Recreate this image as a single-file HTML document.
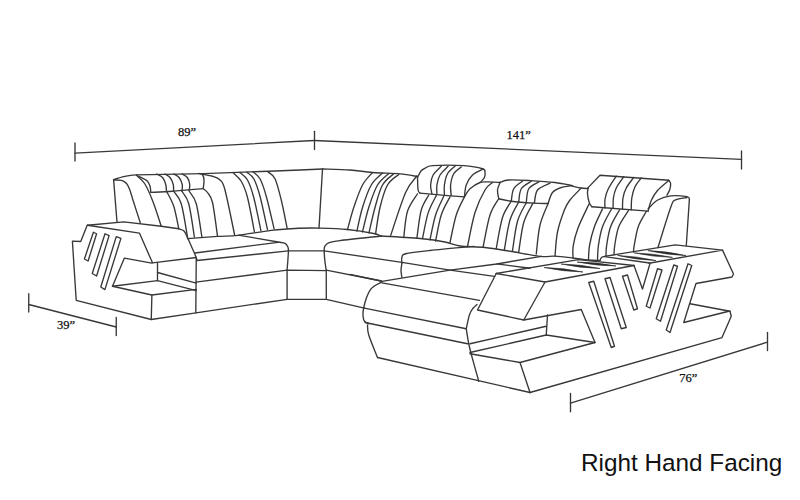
<!DOCTYPE html>
<html><head><meta charset="utf-8"><style>
html,body{margin:0;padding:0;background:#fff;width:800px;height:500px;overflow:hidden}
svg{position:absolute;left:0;top:0}
</style></head><body>
<svg width="800" height="500" viewBox="0 0 800 500">
<g fill="none" stroke="#383838" stroke-width="1.35" stroke-linejoin="round" stroke-linecap="round">
<path d="M75,143 L75,161"/>
<path d="M75,153.1 L314.25,140.5"/>
<path d="M314.5,131.3 L314.5,149.6"/>
<path d="M314.25,140.5 L741.5,159.4"/>
<path d="M741.5,151 L741.5,169"/>
<path d="M28.75,293.75 L28.75,312"/>
<path d="M28.75,304.5 L116.25,327"/>
<path d="M116.25,317.5 L116.25,335.5"/>
<path d="M570.5,393.4 L570.5,411.7"/>
<path d="M570.5,403.2 L767.5,342.1"/>
<path d="M767.5,332.5 L767.5,350.5"/>
<path d="M113.6,179.6 L117,222"/>
<path d="M113.6,179.6 C115.29,179.1 120.56,177.35 123.75,176.6 C126.94,175.85 130.46,175.4 132.75,175.1 C135.04,174.8 136.71,174.85 137.5,174.8"/>
<path d="M137.5,174.8 L204,173.6 L250,171.9 L275,171 L300,170 L322.5,169"/>
<path d="M322.5,169 C327.08,169.17 341.67,169.42 350,170 C358.33,170.58 364.17,171.85 372.5,172.5 C380.83,173.15 392.5,173.23 400,173.9 C407.5,174.57 414.58,176.07 417.5,176.5"/>
<path d="M113.8,180 C115.08,180.07 119.34,179.78 121.5,180.4 C123.66,181.03 125.38,182.19 126.75,183.75 C128.12,185.31 128.62,186.75 129.75,189.75 C130.88,192.75 131.74,196.24 133.5,201.75 C135.26,207.26 139.17,219.29 140.3,222.8"/>
<path d="M138.75,176.25 C140.12,177 145.12,179.12 147,180.75 C148.88,182.38 149.38,184.12 150,186 C150.62,187.88 150.62,191 150.75,192"/>
<path d="M150.75,192.4 C154.38,192.21 163.75,191.88 172.5,191.25 C181.25,190.62 198.12,189.04 203.25,188.6"/>
<path d="M136.5,175.3 C137.88,176.71 142,179.34 144.75,183.75 C147.5,188.16 150.25,194.67 153,201.75 C155.75,208.83 159.88,222.17 161.25,226.25"/>
<path d="M198.75,173.4 C199.38,173.62 201.62,173.65 202.5,174.75 C203.38,175.85 203.88,177.69 204,180 C204.12,182.31 203.38,187.17 203.25,188.6"/>
<path d="M156.75,174 C157.75,174.62 161.25,176 162.75,177.75 C164.25,179.5 165.12,182.21 165.75,184.5 C166.38,186.79 166.38,190.33 166.5,191.5"/>
<path d="M165,174 C165.88,174.62 168.88,176 170.25,177.75 C171.62,179.5 172.69,182.24 173.25,184.5 C173.81,186.76 173.54,190.17 173.6,191.3"/>
<path d="M174,174 C174.88,174.62 177.88,176 179.25,177.75 C180.62,179.5 181.81,182.26 182.25,184.5 C182.69,186.74 181.96,190.08 181.9,191.2"/>
<path d="M182.25,174 C183.12,174.62 186.25,176 187.5,177.75 C188.75,179.5 189.5,182.31 189.75,184.5 C190,186.69 189.12,189.83 189,190.9"/>
<path d="M166.9,191.9 C168.04,194.29 171.78,200.15 173.75,206.25 C175.72,212.35 177.92,224.79 178.75,228.5"/>
<path d="M173.75,191.5 C175,193.54 178.96,196.17 181.25,203.75 C183.54,211.33 186.46,231.46 187.5,237"/>
<path d="M181.9,191.25 C183.04,193.33 186.67,196.12 188.75,203.75 C190.83,211.38 193.46,231.46 194.4,237"/>
<path d="M189.4,191.5 C190.54,193.54 194.17,196.17 196.25,203.75 C198.33,211.33 200.96,231.46 201.9,237"/>
<path d="M203.25,188.6 C203.96,189.25 205.96,190.18 207.5,192.5 C209.04,194.82 210.83,195.25 212.5,202.5 C214.17,209.75 216.67,230.42 217.5,236"/>
<path d="M202.5,174.2 C204.17,174.54 209.58,175.28 212.5,176.25 C215.42,177.22 217.92,177.71 220,180 C222.08,182.29 222.55,180.78 225,190 C227.45,199.22 233.08,227.75 234.7,235.3"/>
<path d="M233.1,172.75 C234.46,174.17 238.85,177.12 241.25,181.25 C243.65,185.38 245.31,189.11 247.5,197.5 C249.69,205.89 253.25,225.92 254.4,231.6"/>
<path d="M240,172.5 C241.25,173.75 245.21,175.83 247.5,180 C249.79,184.17 251.52,189.07 253.75,197.5 C255.98,205.93 259.71,225.08 260.9,230.6"/>
<path d="M246.9,172.25 C248.04,173.33 251.57,174.75 253.75,178.75 C255.93,182.75 257.71,187.76 260,196.25 C262.29,204.74 266.25,224.12 267.5,229.7"/>
<path d="M253.1,171.9 C254.25,173.04 257.81,174.69 260,178.75 C262.19,182.81 263.9,187.92 266.25,196.25 C268.6,204.58 272.79,223.33 274.1,228.75"/>
<path d="M268.1,171.9 C269.25,173.04 272.81,174.07 275,178.75 C277.19,183.43 279.22,191.72 281.25,200 C283.28,208.28 286.21,223.67 287.2,228.4"/>
<path d="M322.5,169 L319,228.1"/>
<path d="M187.5,238.6 C192.5,238.23 209.04,236.95 217.5,236.4 C225.96,235.85 229.29,236.32 238.25,235.3 C247.21,234.28 261.17,231.48 271.25,230.3 C281.33,229.12 290.62,228.62 298.75,228.25 C306.88,227.88 311.88,227.89 320,228.1 C328.12,228.31 338.54,228.6 347.5,229.5 C356.46,230.4 368.12,232.38 373.75,233.5 C379.38,234.62 380,235.79 381.25,236.25"/>
<path d="M381.25,236 C388.12,236.46 411.88,237.75 422.5,238.75 C433.12,239.75 438.75,240.79 445,242 C451.25,243.21 453.33,245.08 460,246 C466.67,246.92 476.67,246.62 485,247.5 C493.33,248.38 500.83,249.78 510,251.25 C519.17,252.72 532.5,255.48 540,256.3 C547.5,257.12 549.5,255.92 555,256.2 C560.5,256.48 567.5,257.37 573,258 C578.5,258.63 583.5,259.58 588,260 C592.5,260.42 598,260.42 600,260.5"/>
<path d="M87.2,225.3 L80.75,241.5 L72.4,241.2 L76.2,300.3 L151.25,319.5 L196,312.8 L287.1,299.3"/>
<path d="M87.5,225.25 L123.75,221.9 L161.25,226.25 L178.75,228.75"/>
<path d="M178.75,228.75 C179.62,229.12 182.54,229.54 184,231 C185.46,232.46 186.92,236.42 187.5,237.5"/>
<path d="M187.5,237.5 L195,254.4 L196.9,259.4"/>
<path d="M87.5,225.25 L139.4,233.1 L152.5,262.8 L196.25,257.5"/>
<path d="M112.5,286.25 L124.4,258.1 L151.9,263.1"/>
<path d="M157.5,263.1 L157.5,280.6"/>
<path d="M157.5,272.5 L196.25,283.1"/>
<path d="M112.5,286.25 L157.5,280.6 L196.25,290.6"/>
<path d="M112.5,286.25 L151.9,295 L196.25,289.4"/>
<path d="M151.9,295 L151.25,319.5"/>
<path d="M196.25,257.5 L195.8,312.8"/>
<path d="M93.4,232.25 L96.6,233.75 L88.1,261 L84.4,259 Z"/>
<path d="M105,233.75 L109.1,235.6 L96.6,276 L92.25,273.5 Z"/>
<path d="M116.25,236.6 L120.9,238.4 L104.9,289.6 L100.8,287 Z"/>
<path d="M238.25,235.1 C244.89,236.25 270.31,240.62 278.1,242 C285.89,243.38 283.38,242.6 285,243.4 C286.62,244.2 287.22,245.66 287.8,246.8 C288.38,247.94 288.38,249.68 288.5,250.25"/>
<path d="M195,253 L278.1,242.3"/>
<path d="M196.9,260.5 L288.5,250.8 L324.2,250.8"/>
<path d="M196,282.1 L287.1,270.1 L326.25,270.7"/>
<path d="M288.5,250.25 C288.38,252.08 288.03,258.04 287.8,261.25 C287.57,264.46 287.22,268.12 287.1,269.5"/>
<path d="M287.1,270.1 L287.1,299.3"/>
<path d="M381.25,236 C374.38,236.77 348.71,239.48 340,240.6 C331.29,241.72 331.52,241.78 329,242.7 C326.48,243.62 325.7,244.84 324.9,246.1 C324.1,247.36 324.2,247.72 324.2,250.25 C324.2,252.78 324.56,257.93 324.9,261.25 C325.24,264.57 326.02,268.71 326.25,270.2"/>
<path d="M326.25,270.7 L326.3,299.3"/>
<path d="M287.1,299.3 L326.3,299.3 L364.4,308.1"/>
<path d="M324.2,250.8 L401.9,262.4 L450,270.1 L494.5,276.3"/>
<path d="M326.25,270.2 L381.25,281"/>
<path d="M401.9,263.1 C401.9,262.17 401.28,259.06 401.9,257.5 C402.52,255.94 400.92,254.92 405.6,253.75 C410.28,252.58 418.6,251.72 430,250.5 C441.4,249.28 466.67,247.08 474,246.4"/>
<path d="M401.9,263.1 C401.75,264.35 401,268.25 401,270.6 C401,272.95 401.75,276.1 401.9,277.2"/>
<path d="M381.9,281.3 L450,270.1 L496.75,264 L541.25,256.3"/>
<path d="M496.75,263.9 L530,268.25"/>
<path d="M350,274.4 L381.25,281"/>
<path d="M381.9,281.9 C380.02,283.15 373.62,285.13 370.6,289.4 C367.58,293.67 364.89,302.4 363.75,307.5 C362.61,312.6 362.92,317.29 363.75,320 C364.58,322.71 367.92,323.12 368.75,323.75"/>
<path d="M381.9,282.8 L479.4,300.4"/>
<path d="M477,304.5 C476.3,305.17 474.07,306.75 472.8,308.5 C471.53,310.25 470.49,311.62 469.4,315 C468.31,318.38 466.77,326.46 466.25,328.75"/>
<path d="M364.4,308.1 L466.25,328.75"/>
<path d="M365,322.5 L467.5,343.75"/>
<path d="M367.5,325 C367.71,326.67 367.08,329.58 368.75,335 C370.42,340.42 376.04,353.75 377.5,357.5"/>
<path d="M377.5,357.5 L530,392.5"/>
<path d="M466.25,328.75 C466.67,331.25 467.79,339.04 468.75,343.75 C469.71,348.46 470.33,350.75 472,357 C473.67,363.25 477.62,377.21 478.75,381.25"/>
<path d="M496.25,273.5 L578.5,259.6 L634,265.5"/>
<path d="M496.25,273.5 L545,282 L634,265.5"/>
<path d="M496.25,273.5 L477.5,310 L523.75,320 L545,282"/>
<path d="M523.75,320 L581.25,309.5 L595,342.5"/>
<path d="M547.5,315 L546.25,335"/>
<path d="M470,343.75 L546.25,326.25"/>
<path d="M470,352.5 L546.25,335 L595,342.5"/>
<path d="M470,353.75 L520,362.5 L595,342.5"/>
<path d="M520,362.5 L530,392.5"/>
<path d="M530,392.5 L722,337.6 L731.25,316.25 L730,311.25"/>
<path d="M588.75,282.5 L593.75,281.25 L614.5,346.25 L611.25,347.5 Z"/>
<path d="M605,278.75 L610,277.5 L626.25,327.5 L621.25,328.75 Z"/>
<path d="M622.5,276.25 L627.5,275 L637.5,308.75 L633.75,310 Z"/>
<path d="M634,265.5 L642.5,289 L650,263.5"/>
<path d="M600,260.5 C600.25,260 600.62,258.21 601.5,257.5 C602.38,256.79 603.5,256.63 605.25,256.25 C607,255.87 610.88,255.38 612,255.2"/>
<path d="M612,255.2 L675.25,244.9 L722.5,250.1 L649,263.25"/>
<path d="M604.5,256.6 L649.5,263"/>
<path d="M722.5,250.1 L733.5,274 L732,277 L696,283.5 L683.75,322.5 L728.75,311.25"/>
<path d="M690,303.75 L730,311.25"/>
<path d="M657.5,268.75 L662,270 L650,308 L646.25,306.25 Z"/>
<path d="M673.75,265 L677.5,266.25 L660.5,321.25 L656.25,318.75 Z"/>
<path d="M688,263.75 L691.75,265.5 L670,332.5 L666.25,330 Z"/>
<path d="M372.5,172.5 C370.83,174.58 365.62,179.17 362.5,185 C359.38,190.83 356.25,200.07 353.75,207.5 C351.25,214.93 348.54,225.92 347.5,229.6"/>
<path d="M382.5,173.1 C380.62,175.08 374.58,179.27 371.25,185 C367.92,190.73 364.89,199.83 362.5,207.5 C360.11,215.17 357.83,227.08 356.9,231"/>
<path d="M388.75,173.5 C386.88,175.42 380.83,179.33 377.5,185 C374.17,190.67 371.25,199.68 368.75,207.5 C366.25,215.32 363.54,227.83 362.5,231.9"/>
<path d="M393.75,173.75 C391.88,175.62 385.62,179.38 382.5,185 C379.38,190.62 377.25,199.53 375,207.5 C372.75,215.47 370,228.58 369,232.8"/>
<path d="M398.75,174.4 C396.88,176.17 390.62,179.48 387.5,185 C384.38,190.52 381.98,199.38 380,207.5 C378.02,215.62 376.33,229.38 375.6,233.75"/>
<path d="M416.9,176 C415.02,178.75 409.98,182.57 405.6,192.5 C401.22,202.43 393.1,228.42 390.6,235.6"/>
<path d="M417.5,177.5 C418.08,176.42 419.75,172.55 421,171 C422.25,169.45 423.08,169.1 425,168.2 C426.92,167.3 426.04,166.03 432.5,165.6 C438.96,165.17 455.42,165.07 463.75,165.6 C472.08,166.12 478.96,167.6 482.5,168.75 C486.04,169.9 484.68,171.04 485,172.5 C485.32,173.96 485.07,175.98 484.4,177.5 C483.73,179.02 481.57,180.92 481,181.6"/>
<path d="M417.5,177.5 C417.6,179.58 417.68,187.4 418.1,190 C418.52,192.6 419.68,192.58 420,193.1"/>
<path d="M420,193.1 L447.5,195.6 L464.4,196.9"/>
<path d="M482.5,169.4 C480.83,170.33 475.21,172.4 472.5,175 C469.79,177.6 467.6,181.35 466.25,185 C464.9,188.65 464.71,194.92 464.4,196.9"/>
<path d="M441.25,166.25 C439.89,167.71 434.88,171.88 433.1,175 C431.33,178.12 430.8,181.88 430.6,185 C430.4,188.12 431.68,192.29 431.9,193.75"/>
<path d="M448.1,166.25 C446.75,167.71 441.87,171.88 440,175 C438.13,178.12 437.42,181.77 436.9,185 C436.38,188.23 436.9,192.83 436.9,194.4"/>
<path d="M455,166.25 C453.75,167.5 449.27,170.62 447.5,173.75 C445.73,176.88 444.92,181.46 444.4,185 C443.88,188.54 444.4,193.33 444.4,195"/>
<path d="M461.25,166.9 C460,168.04 455.52,170.73 453.75,173.75 C451.98,176.77 451.02,181.36 450.6,185 C450.18,188.64 451.14,193.83 451.25,195.6"/>
<path d="M417.5,193.75 C415.83,196.67 409.79,203.96 407.5,211.25 C405.21,218.54 404.38,233.12 403.75,237.5"/>
<path d="M428.75,195 C427.5,197.5 423.23,202.83 421.25,210 C419.27,217.17 417.62,233.33 416.9,238"/>
<path d="M436.25,195.6 C434.89,198.52 430.39,205.93 428.1,213.1 C425.81,220.27 423.43,234.35 422.5,238.6"/>
<path d="M443.75,196.25 C442.39,199.38 437.89,207.74 435.6,215 C433.31,222.26 430.93,235.67 430,239.8"/>
<path d="M450,196.9 C448.54,199.92 443.65,207.65 441.25,215 C438.85,222.35 436.54,236.67 435.6,241"/>
<path d="M464.4,196.9 C463.04,199.92 458.65,207.4 456.25,215 C453.85,222.6 451.04,237.92 450,242.5"/>
<path d="M464.4,196.9 C465.33,195.54 467.4,191.15 470,188.75 C472.6,186.35 477.08,183.64 480,182.5 C482.92,181.36 484.17,181.9 487.5,181.9 C490.83,181.9 497.92,182.4 500,182.5"/>
<path d="M492.5,182.5 C491.25,183.75 487.92,185 485,190 C482.08,195 477.92,203.08 475,212.5 C472.08,221.92 468.75,240.83 467.5,246.5"/>
<path d="M500,182.5 C499.58,183.75 497.71,187.29 497.5,190 C497.29,192.71 498.54,197.29 498.75,198.75"/>
<path d="M500,182.5 C501.46,182.08 503.75,180.32 508.75,180 C513.75,179.68 522.29,180.18 530,180.6 C537.71,181.02 547.92,181.67 555,182.5 C562.08,183.33 569.58,185.08 572.5,185.6"/>
<path d="M498.75,198.75 C500.83,199.17 505.42,200.53 511.25,201.25 C517.08,201.97 527.61,202.72 533.75,203.1 C539.89,203.47 545.71,203.43 548.1,203.5"/>
<path d="M548.1,203.5 C548.83,201.67 550.31,195.17 552.5,192.5 C554.69,189.83 557.92,188.65 561.25,187.5 C564.58,186.35 570.62,185.92 572.5,185.6"/>
<path d="M522.5,181.25 C521.04,182.5 515.62,185.42 513.75,188.75 C511.88,192.08 511.67,199.17 511.25,201.25"/>
<path d="M531.25,181.25 C529.58,182.5 523.33,185.31 521.25,188.75 C519.17,192.19 519.17,199.71 518.75,201.9"/>
<path d="M538.75,181.9 C537.08,183.04 530.83,185.28 528.75,188.75 C526.67,192.22 526.67,200.42 526.25,202.75"/>
<path d="M550,183.1 C547.92,184.25 540.1,186.67 537.5,190 C534.9,193.33 534.92,200.92 534.4,203.1"/>
<path d="M498.75,198.75 C497.29,201.46 492.61,206.96 490,215 C487.39,223.04 484.25,241.67 483.1,247"/>
<path d="M511.25,201.25 C509.79,203.96 505,209.62 502.5,217.5 C500,225.38 497.29,243.33 496.25,248.5"/>
<path d="M518.75,201.9 C517.29,204.92 512.39,212.07 510,220 C507.61,227.93 505.33,244.58 504.4,249.5"/>
<path d="M526.25,202.75 C524.79,205.83 519.79,213.26 517.5,221.25 C515.21,229.24 513.33,245.79 512.5,250.7"/>
<path d="M533,203.1 C531.46,206.33 526.12,214.38 523.75,222.5 C521.38,230.62 519.58,246.92 518.75,251.8"/>
<path d="M548.1,203.5 C546.75,207.08 541.98,216.58 540,225 C538.02,233.42 536.88,249.17 536.25,254"/>
<path d="M581,188.2 C579.17,190.17 572.73,196.45 570,200 C567.27,203.55 566.68,204.17 564.6,209.5 C562.52,214.83 559.1,224.22 557.5,232 C555.9,239.78 555.42,252.17 555,256.2"/>
<path d="M572.5,186.2 C573.92,186.5 578.4,187.6 581,188 C583.6,188.4 586.92,188.5 588.1,188.6"/>
<path d="M588.1,187.6 L600,175.25 L668.75,180.25"/>
<path d="M668.75,180.25 C669.06,180.79 670.43,181.96 670.6,183.5 C670.77,185.04 670.42,187.55 669.8,189.5 C669.18,191.45 667.38,194.25 666.9,195.2"/>
<path d="M588.1,187.6 C588,188.67 587.28,191.43 587.5,194 C587.72,196.57 588.67,200.88 589.4,203 C590.13,205.12 591.48,206.12 591.9,206.75"/>
<path d="M591.9,206.75 L648.1,211.1"/>
<path d="M668.75,180.5 C666.88,182.17 660.42,187.17 657.5,190.5 C654.58,193.83 652.82,197.07 651.25,200.5 C649.68,203.93 648.62,209.33 648.1,211.1"/>
<path d="M616.25,176.1 C614.89,178.29 609.98,185.39 608.1,189.25 C606.23,193.11 605.52,196.12 605,199.25 C604.48,202.38 605,206.54 605,208"/>
<path d="M623.75,176.75 C622.5,178.62 617.98,184.46 616.25,188 C614.52,191.54 613.92,194.62 613.4,198 C612.88,201.38 613.15,206.58 613.1,208.3"/>
<path d="M633.75,177.4 C632.5,179.17 628.04,184.57 626.25,188 C624.46,191.43 623.62,194.46 623,198 C622.38,201.54 622.58,207.38 622.5,209.25"/>
<path d="M641.25,178 C640.21,179.46 636.58,183.42 635,186.75 C633.42,190.08 632.42,194.14 631.8,198 C631.17,201.86 631.34,207.92 631.25,209.9"/>
<path d="M589,204 C587.17,208 580.62,221.07 578,228 C575.38,234.93 574.08,240.6 573.25,245.6 C572.42,250.6 573.04,255.93 573,258"/>
<path d="M602.5,208.9 C601.15,211.88 596.57,220.63 594.4,226.75 C592.23,232.87 590.48,240.06 589.5,245.6 C588.52,251.14 588.67,257.6 588.5,260"/>
<path d="M611.4,209.2 C609.92,212.12 604.67,220.68 602.5,226.75 C600.33,232.82 599.23,239.97 598.4,245.6 C597.57,251.22 597.65,258.02 597.5,260.5"/>
<path d="M619.6,209.7 C618.1,212.54 612.77,220.77 610.6,226.75 C608.43,232.73 607.37,240.72 606.6,245.6 C605.83,250.47 606.1,254.27 606,256"/>
<path d="M628.5,210.5 C626.88,213.21 621.05,220.9 618.75,226.75 C616.45,232.6 615.49,240.89 614.7,245.6 C613.91,250.31 614.12,253.43 614,255"/>
<path d="M646.4,211.3 C645.04,213.88 640.28,221.03 638.25,226.75 C636.22,232.47 634.99,241.39 634.2,245.6 C633.41,249.81 633.62,250.93 633.5,252"/>
<path d="M648,208.9 C649.62,207.42 653.96,202.17 657.75,200 C661.54,197.83 665.88,196.45 670.75,195.9 C675.62,195.35 683.89,196.17 687,196.7 C690.11,197.23 689,198.7 689.4,199.1"/>
<path d="M689.4,199.1 L686.3,245.5"/>
<path d="M687,197.5 C685.1,197.9 678.31,198.28 675.6,199.9 C672.89,201.53 673.68,199.32 670.75,207.25 C667.82,215.18 660.12,240.79 658,247.5"/>
</g>
<g fill="#2a2a2a" stroke="#2a2a2a" stroke-width="0.6" stroke-linejoin="round">
<path d="M544,267.5 Q563.29,271.56 583,272 Q563.71,267.94 544,267.5 Z"/>
<path d="M561,264 Q580.29,268.06 600,268.5 Q580.71,264.44 561,264 Z"/>
<path d="M577,262 Q596.31,265.81 616,266 Q596.69,262.19 577,262 Z"/>
<path d="M617.5,255.4 Q636.51,259.8 656,260.6 Q636.99,256.2 617.5,255.4 Z"/>
<path d="M634.25,252.9 Q653.16,256.96 672.5,257.4 Q653.59,253.34 634.25,252.9 Z"/>
<path d="M647.75,250.6 Q666.64,254.9 686,255.6 Q667.11,251.3 647.75,250.6 Z"/>
</g>
<g style="font-family:'Liberation Serif',serif;font-size:12.5px" fill="#111" stroke="#111" stroke-width="0.25">
<text x="178" y="135.6">89”</text>
<text x="506.5" y="138.8">141”</text>
<text x="57" y="328.8">39”</text>
<text x="679.2" y="381.5">76”</text>
</g>
<text x="581" y="470.5" style="font-family:'Liberation Sans',sans-serif;font-size:24.3px" fill="#111">Right Hand Facing</text>

</svg>
</body></html>
